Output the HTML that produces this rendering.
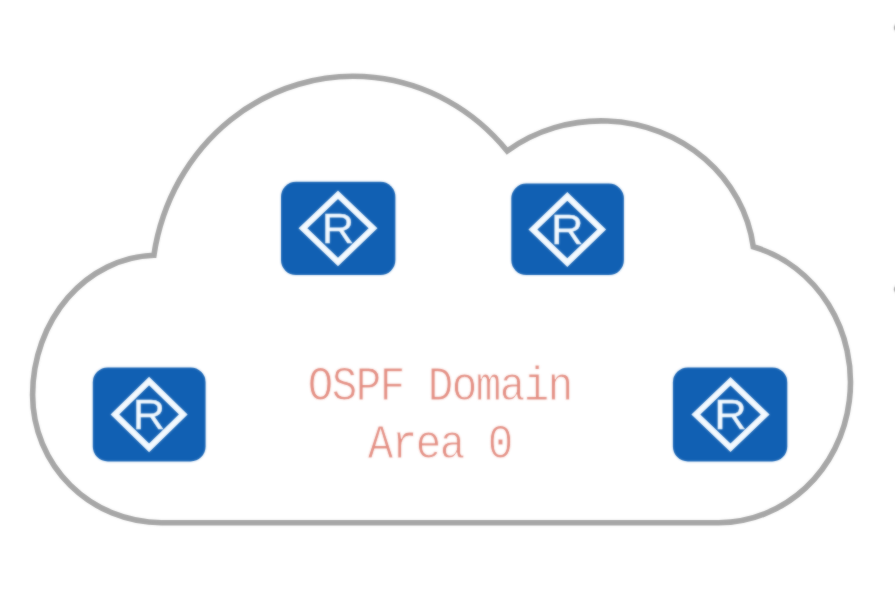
<!DOCTYPE html>
<html lang="en">
<head>
<meta charset="utf-8">
<title>OSPF Domain Area 0</title>
<style>
  html, body { margin: 0; padding: 0; background: #ffffff; }
  body { width: 895px; height: 605px; overflow: hidden; position: relative; }
  svg { position: absolute; left: 0; top: 0; display: block; }
  .cloud { fill: none; stroke: #a6a6a6; stroke-width: 5.6; stroke-linejoin: miter; }
  .box { fill: #1160b3; }
  .dia { fill: none; stroke: #f4faff; stroke-width: 6.2; stroke-linejoin: miter; }
  .r { font-family: "Liberation Sans", sans-serif; font-size: 42.5px; fill: #f4faff; text-anchor: middle; stroke: #f4faff; stroke-width: 0.25px; }
  text { white-space: pre; }
  .label { font-family: "Liberation Mono", monospace; font-size: 42.5px; fill: #e38d81; stroke: #ffffff; stroke-width: 0.8px; paint-order: fill stroke; }
  .dot { fill: #a9a9a9; }
</style>
</head>
<body>
<svg width="895" height="605" viewBox="0 0 895 605">
  <defs>
    <filter id="soft" x="-5%" y="-5%" width="110%" height="110%" color-interpolation-filters="sRGB"><feGaussianBlur stdDeviation="0.8" result="b"/><feComposite in="SourceGraphic" in2="b" operator="arithmetic" k1="0" k2="0.4" k3="0.60" k4="0"/></filter>
    <filter id="edge" x="-5%" y="-5%" width="110%" height="110%" color-interpolation-filters="sRGB"><feGaussianBlur stdDeviation="0.8" result="b"/><feComposite in="SourceGraphic" in2="b" operator="arithmetic" k1="0" k2="0.55" k3="0.45" k4="0"/></filter>
  </defs>
  <g filter="url(#edge)">
    <path class="cloud" d="M 161.4 522.7 C 127.3 522.7 94.5 509.2 70.3 485.3 C 46.2 461.3 32.6 428.9 32.6 395.0 C 32.6 358.7 45.3 323.8 67.9 297.7 C 90.5 271.6 121.4 256.4 153.9 255.3 C 161.9 201.6 189.2 153.2 230.3 120.1 C 271.4 87.0 323.1 71.7 374.6 77.5 C 426.2 83.2 473.6 109.5 507.2 151.0 C 535.8 130.2 571.4 119.6 607.6 121.0 C 643.8 122.5 678.2 135.9 704.9 158.9 C 731.6 181.9 748.7 213.1 753.3 246.8 C 784.1 255.7 810.8 276.2 828.5 304.6 C 846.1 332.9 853.6 367.1 849.3 400.8 C 845.1 434.6 829.6 465.5 805.6 487.9 C 781.5 510.3 750.7 522.7 718.8 522.7 Z"/>
  </g>
  <g filter="url(#soft)">
    <circle class="dot" cx="898.5" cy="27.7" r="4.6"/>
    <circle class="dot" cx="898.5" cy="289.3" r="4.6"/>
    <g transform="translate(338.2 228.4)">
      <rect class="box" x="-57.20" y="-46.65" width="114.4" height="93.3" rx="15" ry="15"/>
      <path class="dia" transform="translate(-0.2 -0.1)" d="M -35.0 0 L 0 -33.6 L 35.0 0 L 0 33.6 Z"/>
      <text class="r" transform="translate(-0.2 14.20) scale(1.06 1)">R</text>
    </g>
    <g transform="translate(567.6 229.3)">
      <rect class="box" x="-56.30" y="-45.80" width="112.6" height="91.6" rx="15" ry="15"/>
      <path class="dia" transform="translate(-0.3 0.2)" d="M -34.37 0 L 0 -33.1 L 34.37 0 L 0 33.1 Z"/>
      <text class="r" transform="translate(-0.3 14.50) scale(1.06 1)">R</text>
    </g>
    <g transform="translate(149.2 414.4)">
      <rect class="box" x="-56.40" y="-47.00" width="112.8" height="94.0" rx="15" ry="15"/>
      <path class="dia" transform="translate(-0.1 0.0)" d="M -34.12 0 L 0 -33.43 L 34.12 0 L 0 33.43 Z"/>
      <text class="r" transform="translate(-0.1 14.30) scale(1.06 1)">R</text>
    </g>
    <g transform="translate(730.1 414.4)">
      <rect class="box" x="-57.20" y="-47.00" width="114.4" height="94.0" rx="15" ry="15"/>
      <path class="dia" transform="translate(0.4 0.1)" d="M -34.65 0 L 0 -33.2 L 34.65 0 L 0 33.2 Z"/>
      <text class="r" transform="translate(0.4 14.40) scale(1.06 1)">R</text>
    </g>
    <text class="label" transform="translate(0 399.6) scale(1 1.13)" x="307.75 331.75 355.75 379.75 403.75 427.75 451.75 475.75 499.75 523.75 547.75">OSPF Domain</text>
    <text class="label" transform="translate(0 457.5) scale(1 1.13)" x="367.75 391.75 415.75 439.75 463.75 487.75">Area 0</text>
  </g>
</svg>
</body>
</html>
